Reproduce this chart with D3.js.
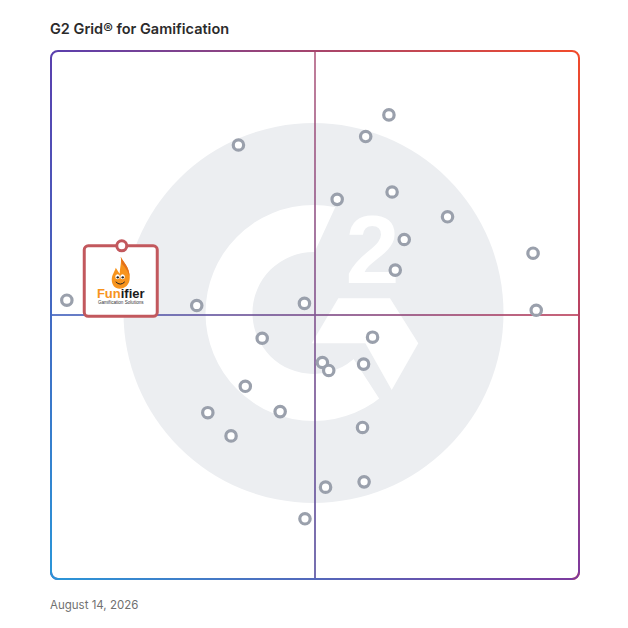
<!DOCTYPE html>
<html>
<head>
<meta charset="utf-8">
<script src="https://cdn.jsdelivr.net/npm/d3@7"></script>
<style>
  body { margin: 0; background: #fff; }
  #chart { width: 628px; height: 628px; }
</style>
</head>
<body>
<div id="chart"></div>
<script>
// product positions on the grid (0-100 on both axes: satisfaction, market presence)
const productX = [64.0, 59.6, 35.5, 54.2, 64.6, 75.1, 66.9, 65.2, 27.6, 48.0, 40.0, 60.9, 51.4,
                  52.6, 59.2, 36.8, 29.7, 43.4, 34.1, 59.0, 52.0, 59.3, 3.0, 91.3, 91.9, 48.1];
const productY = [87.9, 83.8, 82.2, 71.9, 73.3, 68.6, 64.3, 58.5, 51.8, 52.2, 45.6, 45.8, 41.0,
                  39.5, 40.7, 36.5, 31.5, 31.7, 27.1, 28.7, 17.4, 18.4, 52.8, 61.7, 50.9, 11.4];
const featured = { name: "Funifier", tagline: "Gamification Solutions", x: 13.4, y: 63.1 };
const titleText = "G2 Grid\u00ae for Gamification";
const dateText = "August 14, 2026";

const width = 628, height = 628;
const box = { left: 51, top: 51, right: 579, bottom: 579 };

const svg = d3.select("#chart").append("svg")
  .attr("width", width)
  .attr("height", height);

const x = d3.scaleLinear().domain([0, 100]).range([box.left, box.right]);
const y = d3.scaleLinear().domain([0, 100]).range([box.bottom, box.top]);

const defs = svg.append("defs");

// two horizontal gradients (top edge colours, bottom edge colours) blended with a vertical mask
function hGrad(id, c1, c2) {
  const g = defs.append("linearGradient").attr("id", id)
    .attr("gradientUnits", "userSpaceOnUse")
    .attr("x1", box.left).attr("y1", 0).attr("x2", box.right).attr("y2", 0);
  g.append("stop").attr("offset", 0).attr("stop-color", c1);
  g.append("stop").attr("offset", 1).attr("stop-color", c2);
}
hGrad("gradTop", "#5a3fae", "#f24b2b");
hGrad("gradBottom", "#2a96d8", "#7d3a9e");

const vg = defs.append("linearGradient").attr("id", "vgrad")
  .attr("gradientUnits", "userSpaceOnUse")
  .attr("x1", 0).attr("y1", box.top).attr("x2", 0).attr("y2", box.bottom);
vg.append("stop").attr("offset", 0).attr("stop-color", "#000");
vg.append("stop").attr("offset", 1).attr("stop-color", "#fff");
defs.append("mask").attr("id", "vmask")
  .attr("maskUnits", "userSpaceOnUse")
  .attr("x", 0).attr("y", 0).attr("width", width).attr("height", height)
  .append("rect").attr("x", 0).attr("y", 0).attr("width", width).attr("height", height)
  .attr("fill", "url(#vgrad)");

// Background G2 watermark
const cx = 313.5, cy = 313;
const logo = svg.append("g").attr("class", "watermark");
logo.append("circle").attr("cx", cx).attr("cy", cy).attr("r", 190).attr("fill", "#eceef1");

// the G ring, with its opening cut by two slanted lines
defs.append("clipPath").attr("id", "ringClip")
  .append("polygon")
  .attr("points", [[345, 186], [305, 273], [340, 338], [395, 423], [395, 520],
                   [100, 520], [100, 100], [345, 100]].map(p => p.join(",")).join(" "));
const ringArc = d3.arc().innerRadius(61).outerRadius(108).startAngle(0).endAngle(2 * Math.PI);
logo.append("g")
  .attr("clip-path", "url(#ringClip)")
  .append("path")
  .attr("d", ringArc())
  .attr("transform", `translate(${cx},${cy})`)
  .attr("fill", "#fff");

// bar + chevron of the G
logo.append("polygon")
  .attr("points", [[338.3, 298.3], [390, 298.3], [418.3, 343.3], [391.7, 390], [365.4, 343.3], [311.7, 343.3]]
    .map(p => p.join(",")).join(" "))
  .attr("fill", "#fff");

logo.append("text")
  .attr("x", 372.5).attr("y", 282.7)
  .attr("text-anchor", "middle")
  .attr("font-family", "Liberation Sans, Arial, sans-serif")
  .attr("font-weight", 700)
  .attr("font-size", 97)
  .attr("fill", "#fff")
  .text("2");

// frame and quadrant lines, drawn twice for the four-corner gradient
function drawFrame(g, stroke) {
  g.append("rect")
    .attr("x", box.left).attr("y", box.top)
    .attr("width", box.right - box.left).attr("height", box.bottom - box.top)
    .attr("rx", 7).attr("ry", 7)
    .attr("fill", "none")
    .attr("stroke", stroke)
    .attr("stroke-width", 2);
  g.append("line")
    .attr("x1", box.left).attr("x2", box.right)
    .attr("y1", y(50)).attr("y2", y(50))
    .attr("stroke", stroke).attr("stroke-width", 1.4);
  g.append("line")
    .attr("x1", x(50)).attr("x2", x(50))
    .attr("y1", box.top).attr("y2", box.bottom)
    .attr("stroke", stroke).attr("stroke-width", 1.4);
}
drawFrame(svg.append("g"), "url(#gradTop)");
drawFrame(svg.append("g").attr("mask", "url(#vmask)"), "url(#gradBottom)");

// product markers
const products = productX.map((v, i) => ({ x: v, y: productY[i] }));
svg.append("g").attr("class", "products")
  .selectAll("circle")
  .data(products)
  .enter()
  .append("circle")
  .attr("cx", d => x(d.x))
  .attr("cy", d => y(d.y))
  .attr("r", 5.2)
  .attr("fill", "#fff")
  .attr("stroke", "#9aa0ac")
  .attr("stroke-width", 3.2);

// featured product card
const fx = x(featured.x), fy = y(featured.y);
const card = svg.append("g").attr("class", "featured").attr("transform", `translate(${fx},${fy})`);
card.append("rect")
  .attr("x", -37.5).attr("y", 0)
  .attr("width", 73).attr("height", 70.5)
  .attr("rx", 4).attr("ry", 4)
  .attr("fill", "#fff")
  .attr("stroke", "#c2585d")
  .attr("stroke-width", 3);
card.append("circle")
  .attr("cx", 0).attr("cy", 0).attr("r", 5)
  .attr("fill", "#fff")
  .attr("stroke", "#c2585d")
  .attr("stroke-width", 3);

// flame mascot
const flame = card.append("g").attr("transform", "translate(-1,0)");
flame.append("path")
  .attr("d", "M0,11 C2,16 9,21 9,32 C9,39 4,43 -1,43 C-6,43 -9,39 -9,34 C-9,29 -6,26 -5,22 C-3,25 -2,27 -1,28 C-1,22 1,17 0,11 Z")
  .attr("fill", "#f7941d");
flame.append("path")
  .attr("d", "M0,11 C2,16 9,21 9,32 C8,26 4,21 1,18 Z")
  .attr("fill", "#e4711b");
flame.append("ellipse").attr("cx", -3.2).attr("cy", 31).attr("rx", 2.3).attr("ry", 2.5).attr("fill", "#fff");
flame.append("ellipse").attr("cx", 1.8).attr("cy", 31).attr("rx", 2.3).attr("ry", 2.5).attr("fill", "#fff");
flame.append("circle").attr("cx", -3).attr("cy", 31.5).attr("r", 1.2).attr("fill", "#222");
flame.append("circle").attr("cx", 2).attr("cy", 31.5).attr("r", 1.2).attr("fill", "#222");
flame.append("path")
  .attr("d", "M-5,36 Q-0.5,40.5 4,36")
  .attr("fill", "none")
  .attr("stroke", "#222")
  .attr("stroke-width", 1);

const name = card.append("text")
  .attr("x", -1).attr("y", 52)
  .attr("text-anchor", "middle")
  .attr("font-family", "Liberation Sans, Arial, sans-serif")
  .attr("font-weight", 700)
  .attr("font-size", 13);
name.append("tspan").attr("fill", "#f7941d").text(featured.name.slice(0, 3));
name.append("tspan").attr("fill", "#1b1b1b").text(featured.name.slice(3));
card.append("text")
  .attr("x", -1).attr("y", 58)
  .attr("text-anchor", "middle")
  .attr("font-family", "Liberation Sans, Arial, sans-serif")
  .attr("font-size", 4.6)
  .attr("fill", "#333")
  .text(featured.tagline);

// title and date
svg.append("text")
  .attr("x", 50).attr("y", 34)
  .attr("font-family", "Inter, sans-serif")
  .attr("font-weight", 600)
  .attr("font-size", 14.5)
  .attr("fill", "#2b2b2b")
  .text(titleText);

svg.append("text")
  .attr("x", 50).attr("y", 609)
  .attr("font-family", "Inter, sans-serif")
  .attr("font-size", 11.5)
  .attr("fill", "#707070")
  .text(dateText);
</script>
</body>
</html>
